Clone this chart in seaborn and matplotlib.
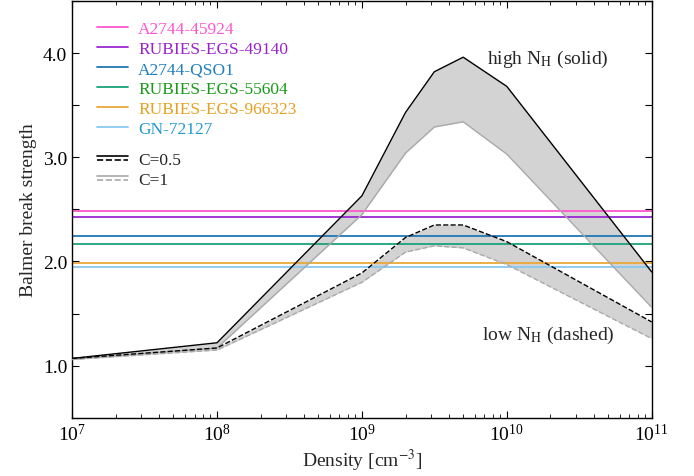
import matplotlib
matplotlib.use("Agg")
import matplotlib.pyplot as plt
import matplotlib.ticker as mticker
from matplotlib.lines import Line2D
import pandas as pd
import seaborn as sns

# model grid (density in cm^-3)
density = [1e7, 1e8, 1e9, 2e9, 3.16e9, 5e9, 1e10, 1e11]
high_c05 = [1.07, 1.22, 2.63, 3.43, 3.82, 3.96, 3.68, 1.90]
high_c1 = [1.06, 1.17, 2.45, 3.04, 3.29, 3.34, 3.03, 1.56]
low_c05 = [1.07, 1.17, 1.89, 2.23, 2.35, 2.35, 2.19, 1.42]
low_c1 = [1.06, 1.15, 1.80, 2.09, 2.15, 2.13, 1.97, 1.26]

# observed Balmer breaks
objects = ["A2744-45924", "RUBIES-EGS-49140", "A2744-QSO1",
           "RUBIES-EGS-55604", "RUBIES-EGS-966323", "GN-72127"]
breaks = [2.48, 2.43, 2.24, 2.17, 1.99, 1.95]
line_colors = ["#ff55cc", "#9a28d0", "#1f77b4", "#1aa37a", "#e8a838", "#88c8ee"]
text_colors = ["#ff55cc", "#9a22cc", "#1f7fbf", "#1a9a1a", "#e8a020", "#2299cc"]


class StackedHandler:
    # solid over dashed, for the C legend
    def legend_artist(self, legend, orig_handle, fontsize, handlebox):
        x0, y0 = handlebox.xdescent, handlebox.ydescent
        w, h = handlebox.width, handlebox.height
        color = orig_handle.get_color()
        line = None
        for frac, ls in [(0.68, "-"), (0.32, "--")]:
            line = Line2D([x0, x0 + w], [y0 + h * frac] * 2, color=color,
                          linestyle=ls, linewidth=1.2)
            line.set_transform(handlebox.get_transform())
            handlebox.add_artist(line)
        return line


sns.set_theme(style="ticks")
plt.rcParams["font.family"] = ["Liberation Serif", "DejaVu Serif"]
plt.rcParams["mathtext.fontset"] = "stix"

df = pd.DataFrame({
    "density": density,
    "high_c05": high_c05,
    "high_c1": high_c1,
    "low_c05": low_c05,
    "low_c1": low_c1,
})

fig, ax = plt.subplots(figsize=(6.94, 4.77), dpi=100)
fig.subplots_adjust(left=0.104, right=0.939, top=0.996, bottom=0.122)

ax.fill_between(df["density"], df["high_c1"], df["high_c05"],
                color="#d3d3d3", linewidth=0, zorder=1)
ax.fill_between(df["density"], df["low_c1"], df["low_c05"],
                color="#d3d3d3", linewidth=0, zorder=1)

for val, col in zip(breaks, line_colors):
    ax.axhline(val, color=col, linewidth=1.3, zorder=2)

sns.lineplot(data=df, x="density", y="high_c1", color="#a9a9a9",
             linewidth=1.0, ax=ax, zorder=3)
sns.lineplot(data=df, x="density", y="low_c1", color="#a9a9a9",
             linewidth=1.0, linestyle="--", ax=ax, zorder=3)
sns.lineplot(data=df, x="density", y="high_c05", color="black",
             linewidth=1.0, ax=ax, zorder=4)
sns.lineplot(data=df, x="density", y="low_c05", color="black",
             linewidth=1.0, linestyle="--", ax=ax, zorder=4)

ax.set_xscale("log")
ax.set_xlim(1e7, 1e11)
ax.set_ylim(0.5, 4.5)
ax.yaxis.set_major_locator(mticker.MultipleLocator(0.5))
ax.yaxis.set_major_formatter(mticker.FuncFormatter(
    lambda v, p: f"{v:.1f}" if abs(v - round(v)) < 1e-6 else ""))
ax.tick_params(which="both", direction="in", top=True, right=True,
               labelsize=14, colors="black")
ax.tick_params(which="major", length=5, width=0.8)
ax.tick_params(which="minor", length=3, width=0.6)
for sp in ax.spines.values():
    sp.set_color("black")
    sp.set_linewidth(1.0)

ax.set_xlabel(r"Density [cm$^{-3}$]", fontsize=14, labelpad=2)
ax.set_ylabel("Balmer break strength", fontsize=14)

ax.text(0.821, 0.862, r"high N$_{\rm H}$ (solid)", transform=ax.transAxes,
        ha="center", va="center", fontsize=14)
ax.text(0.821, 0.201, r"low N$_{\rm H}$ (dashed)", transform=ax.transAxes,
        ha="center", va="center", fontsize=14)

obj_handles = [Line2D([], [], color=c, linewidth=1.3) for c in line_colors]
leg1 = ax.legend(obj_handles, objects, loc="upper left",
                 bbox_to_anchor=(0.03, 0.968), frameon=False, fontsize=12.5,
                 handlelength=1.8, handletextpad=0.6, labelspacing=0.22,
                 borderaxespad=0)
for txt, c in zip(leg1.get_texts(), text_colors):
    txt.set_color(c)
ax.add_artist(leg1)

c_handles = [Line2D([], [], color="black"), Line2D([], [], color="#a9a9a9")]
ax.legend(c_handles, ["C=0.5", "C=1"], loc="upper left",
          bbox_to_anchor=(0.03, 0.655), frameon=False, fontsize=12.5,
          handlelength=1.8, handletextpad=0.6, labelspacing=0.22,
          borderaxespad=0, handler_map={Line2D: StackedHandler()})

fig.savefig("out.png", dpi=100)
